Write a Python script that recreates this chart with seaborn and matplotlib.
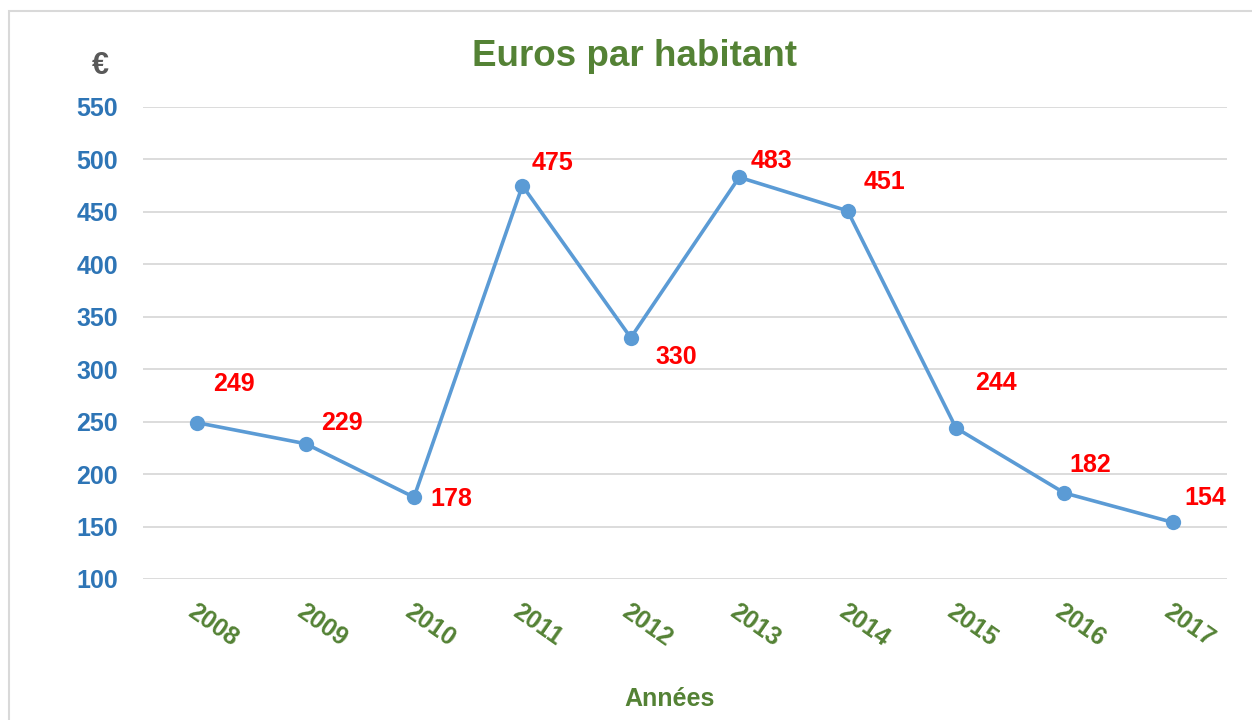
import matplotlib
matplotlib.use("Agg")
import matplotlib.pyplot as plt
import matplotlib.patches as patches
import pandas as pd
import seaborn as sns

# chart data
years = ["2008", "2009", "2010", "2011", "2012", "2013", "2014", "2015", "2016", "2017"]
euros = [249, 229, 178, 475, 330, 483, 451, 244, 182, 154]
y_ticks = [100, 150, 200, 250, 300, 350, 400, 450, 500, 550]

# label offsets (pixels, baseline) as placed in the original chart
label_offsets = [(37, 32), (36, 14), (37, -9), (30, 16), (45, -26),
                 (32, 9), (37, 22), (40, 38), (26, 21), (32, 17)]

GREEN = "#548235"
BLUE = "#2E75B6"
LINE = "#5B9BD5"
RED = "#FF0000"
GRID = "#D9D9D9"

sns.set_theme(style="white")
plt.rcParams["font.family"] = ["Liberation Sans", "DejaVu Sans"]

df = pd.DataFrame({"Année": years, "Euros": euros})

fig = plt.figure(figsize=(12.52, 7.2), dpi=100)
ax = fig.add_axes([143 / 1252, 1 - 579 / 720, (1227 - 143) / 1252, (579 - 107) / 720])

sns.lineplot(
    data=df,
    x="Année",
    y="Euros",
    ax=ax,
    color=LINE,
    linewidth=2.6,
    marker="o",
    markersize=11,
    markeredgewidth=0,
    zorder=3
)

for i, (val, off) in enumerate(zip(euros, label_offsets)):
    ax.annotate(
        str(val),
        xy=(i, val),
        xytext=off,
        textcoords="offset pixels",
        ha="center",
        va="baseline",
        color=RED,
        fontsize=18,
        fontweight="bold"
    )

ax.set_xlim(-0.5, len(years) - 0.5)
ax.set_ylim(100, 550)
ax.set_yticks(y_ticks)
ax.yaxis.grid(True, color=GRID, linewidth=1.3)
ax.xaxis.grid(False)
for side in ["top", "right", "bottom", "left"]:
    ax.spines[side].set_visible(False)

ax.set_xlabel("")
ax.set_ylabel("")
ax.tick_params(axis="y", length=0, pad=18, labelsize=18, labelcolor=BLUE)
ax.tick_params(axis="x", length=0, pad=15, labelsize=18, labelcolor=GREEN)
for lbl in ax.get_yticklabels():
    lbl.set_fontweight("bold")
for lbl in ax.get_xticklabels():
    lbl.set_fontweight("bold")
    lbl.set_rotation(-35)
    lbl.set_ha("left")
    lbl.set_va("top")
    lbl.set_rotation_mode("anchor")

fig.text(634 / 1252, 1 - 66 / 720, "Euros par habitant", ha="center", va="baseline",
         fontsize=26.5, fontweight="bold", color=GREEN)
fig.text(670 / 1252, 1 - 706 / 720, "Années", ha="center", va="baseline",
         fontsize=18, fontweight="bold", color=GREEN)
fig.text(100 / 1252, 1 - 66 / 720, "€", ha="center", va="center",
         fontsize=22, fontweight="bold", color="#595959")

# light frame around the chart area
frame = patches.Rectangle((9 / 1252, -0.05), 1.2, 1.05 - 11 / 720,
                          transform=fig.transFigure, fill=False,
                          edgecolor=GRID, linewidth=1.5)
fig.patches.append(frame)

fig.savefig("out.png", dpi=100)
